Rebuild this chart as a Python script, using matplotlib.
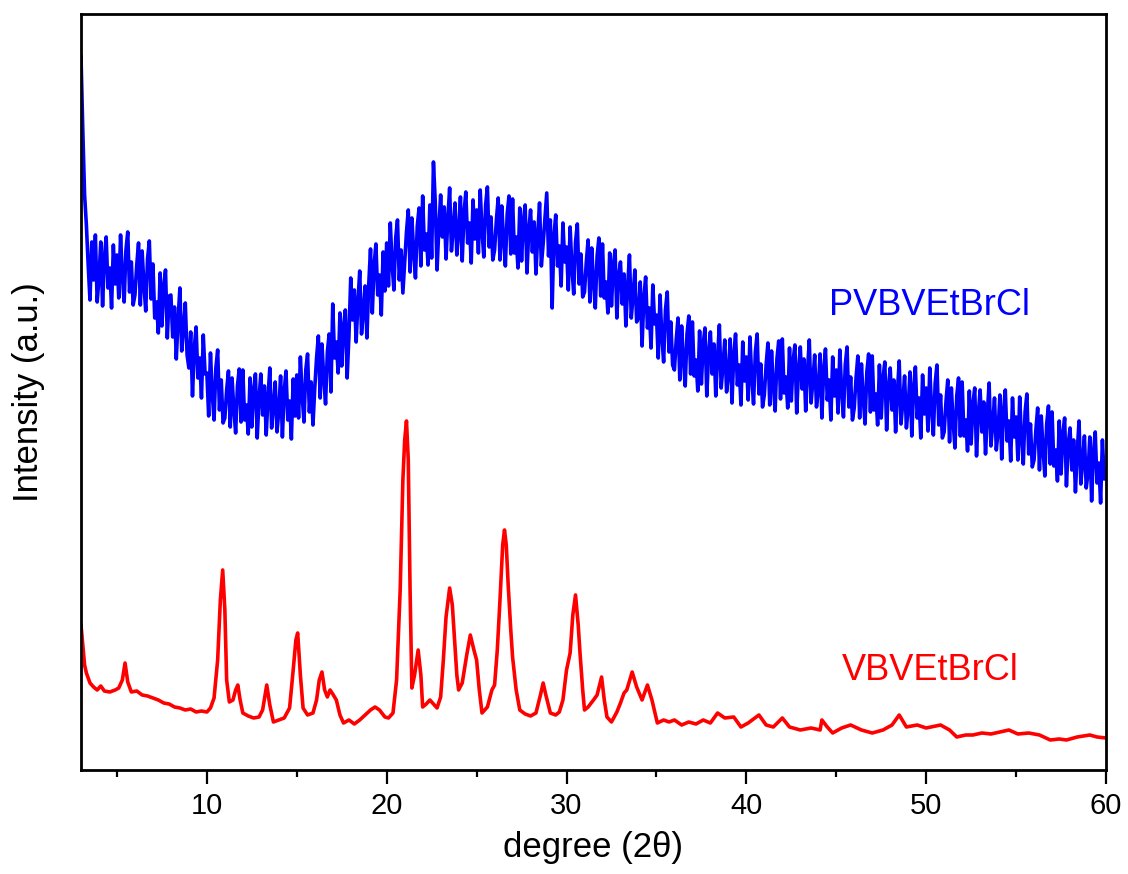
import matplotlib
matplotlib.use("Agg")
import matplotlib.pyplot as plt
import numpy as np
from matplotlib.ticker import MultipleLocator

plt.rcParams['font.family'] = ['Liberation Sans', 'DejaVu Sans']

# PVBVEtBrCl (blue), sampled every 0.1 degree from 3 to 60
pv_x = np.round(np.arange(3.0, 60.001, 0.1), 1)
pv_y = [
    714, 640, 575, 545, 505, 470, 528, 490, 535, 468,   # 3
    492, 528, 464, 512, 533, 482, 502, 462, 525, 486,   # 4
    515, 472, 535, 494, 468, 520, 538, 478, 508, 465,   # 5
    475, 505, 527, 465, 519, 485, 459, 511, 529, 471,   # 6
    506, 452, 468, 437, 497, 444, 484, 500, 432, 474,   # 7
    475, 433, 463, 411, 451, 482, 419, 441, 467, 415,   # 8
    402, 438, 374, 422, 443, 392, 412, 372, 435, 396,   # 9
    397, 354, 417, 376, 350, 402, 420, 360, 390, 347,   # 10
    352, 380, 399, 343, 392, 361, 337, 384, 401, 348,   # 11
    400, 350, 365, 336, 392, 343, 380, 396, 332, 371,   # 12
    396, 355, 384, 335, 373, 402, 342, 363, 388, 338,   # 13
    359, 394, 333, 379, 399, 350, 369, 331, 391, 354,   # 14
    395, 352, 413, 374, 348, 400, 416, 358, 388, 345,   # 15
    382, 412, 434, 372, 426, 392, 366, 418, 436, 378,   # 16
    466, 412, 428, 397, 457, 404, 444, 460, 392, 434,   # 17
    492, 450, 480, 428, 468, 499, 436, 458, 484, 432,   # 18
    485, 521, 457, 505, 526, 475, 495, 455, 518, 479,   # 19
    527, 484, 547, 506, 480, 532, 550, 490, 520, 477,   # 20
    508, 538, 560, 498, 552, 518, 492, 544, 562, 504,   # 21
    574, 520, 536, 505, 565, 512, 608, 568, 500, 542,   # 22
    575, 533, 563, 511, 551, 582, 519, 541, 567, 515,   # 23
    537, 573, 509, 557, 578, 527, 547, 507, 570, 531,   # 24
    560, 517, 580, 539, 513, 565, 583, 523, 553, 510,   # 25
    520, 550, 572, 510, 564, 530, 504, 556, 574, 516,   # 26
    571, 517, 533, 502, 562, 509, 549, 565, 497, 539,   # 27
    560, 518, 548, 496, 536, 567, 504, 526, 552, 577,   # 28
    514, 550, 462, 534, 555, 504, 524, 484, 547, 508,   # 29
    523, 480, 543, 502, 476, 528, 546, 486, 516, 473,   # 30
    478, 508, 530, 468, 522, 488, 462, 514, 532, 474,   # 31
    526, 472, 488, 457, 517, 464, 504, 520, 452, 494,   # 32
    508, 466, 496, 444, 484, 515, 452, 474, 500, 448,   # 33
    452, 488, 424, 472, 493, 442, 462, 422, 485, 446,   # 34
    455, 412, 475, 434, 408, 460, 478, 418, 448, 405,   # 35
    400, 430, 452, 390, 444, 410, 384, 436, 454, 396,   # 36
    448, 394, 410, 379, 439, 386, 426, 442, 374, 416,   # 37
    438, 396, 426, 374, 414, 445, 382, 404, 430, 378,   # 38
    395, 431, 367, 415, 436, 385, 405, 365, 428, 389,   # 39
    413, 370, 433, 392, 366, 418, 436, 376, 406, 363,   # 40
    375, 405, 427, 365, 419, 385, 359, 411, 429, 371,   # 41
    431, 377, 393, 362, 422, 369, 409, 425, 357, 399,   # 42
    423, 381, 411, 359, 399, 430, 367, 389, 415, 363,   # 43
    380, 416, 352, 400, 421, 370, 390, 350, 413, 374,   # 44
    400, 357, 420, 379, 353, 405, 423, 363, 393, 350,   # 45
    362, 392, 414, 352, 406, 372, 346, 398, 416, 358,   # 46
    414, 360, 376, 345, 405, 352, 392, 408, 340, 382,   # 47
    402, 360, 390, 338, 378, 409, 346, 368, 394, 342,   # 48
    362, 398, 334, 382, 403, 352, 372, 332, 395, 356,   # 49
    382, 339, 402, 361, 335, 387, 405, 345, 375, 332,   # 50
    338, 368, 390, 328, 382, 348, 322, 374, 392, 334,   # 51
    388, 334, 350, 319, 379, 326, 366, 382, 314, 356,   # 52
    380, 338, 368, 316, 356, 387, 324, 346, 372, 320,   # 53
    339, 375, 311, 359, 380, 329, 349, 309, 372, 333,   # 54
    353, 310, 373, 332, 306, 358, 376, 316, 346, 303,   # 55
    310, 340, 362, 300, 354, 320, 294, 346, 364, 306,   # 56
    358, 304, 320, 289, 349, 296, 336, 352, 284, 326,   # 57
    342, 300, 330, 278, 318, 349, 286, 308, 334, 282,   # 58
    297, 333, 269, 317, 338, 287, 307, 267, 330, 291,   # 59
    300,
]

# VBVEtBrCl (red)
vb_x = [
    3.0, 3.1, 3.2, 3.3, 3.5, 3.7, 3.9, 4.1, 4.3, 4.6, 4.9, 5.1, 5.3, 5.45, 5.6, 5.8,
    6.1, 6.4, 6.7, 7.0, 7.3, 7.6, 7.9, 8.2, 8.5, 8.8, 9.1, 9.4, 9.7, 10.0,
    10.2, 10.4, 10.6, 10.75, 10.88, 11.0, 11.1, 11.25, 11.45, 11.6, 11.72, 11.85,
    12.0, 12.3, 12.6, 12.9, 13.1, 13.33, 13.5, 13.7, 14.0, 14.3, 14.6, 14.8, 14.95,
    15.05, 15.2, 15.35, 15.6, 15.9, 16.1, 16.25, 16.4, 16.55, 16.7, 16.85, 17.0,
    17.2, 17.4, 17.6, 17.9, 18.2, 18.5, 18.8, 19.1, 19.35, 19.6, 19.9, 20.1, 20.35,
    20.55, 20.75, 20.9, 21.0, 21.1, 21.2, 21.3, 21.4, 21.55, 21.75, 21.9, 22.0,
    22.2, 22.4, 22.6, 22.8, 23.0, 23.15, 23.3, 23.5, 23.65, 23.75, 23.9, 24.0,
    24.2, 24.45, 24.65, 24.85, 25.0, 25.15, 25.3, 25.6, 25.85, 26.0, 26.15, 26.3,
    26.45, 26.55, 26.65, 26.75, 26.9, 27.0, 27.2, 27.4, 27.7, 28.0, 28.3, 28.55,
    28.7, 28.85, 29.1, 29.4, 29.6, 29.8, 30.0, 30.2, 30.35, 30.5, 30.65, 30.75,
    30.9, 31.0, 31.2, 31.5, 31.7, 31.95, 32.1, 32.25, 32.5, 32.8, 33.0, 33.2,
    33.35, 33.65, 33.9, 34.2, 34.5, 34.75, 35.05, 35.4, 35.7, 36.0, 36.4, 36.8,
    37.2, 37.6, 38.0, 38.4, 38.8, 39.3, 39.7, 40.1, 40.7, 41.1, 41.5, 42.0, 42.4,
    43.0, 43.6, 44.1, 44.2, 44.5, 44.8, 45.3, 45.8, 46.4, 47.0, 47.6, 48.1, 48.5,
    48.9, 49.5, 50.0, 50.8, 51.3, 51.7, 52.2, 52.6, 53.1, 53.6, 54.1, 54.6, 55.1,
    55.7, 56.3, 56.9, 57.4, 57.8, 58.4, 59.1, 59.5, 60.0,
]
vb_y = [
    145, 125, 105, 97, 87, 83, 80, 84, 79, 78, 80, 82, 90, 107, 88, 78,
    79, 75, 74, 72, 70, 67, 66, 63, 62, 60, 61, 58, 59, 58,
    62, 72, 110, 170, 200, 160, 90, 68, 70, 80, 85, 70,
    57, 54, 52, 53, 60, 85, 65, 48, 50, 52, 62, 100, 130,
    137, 95, 62, 55, 57, 70, 90, 98, 80, 73, 80, 76,
    70, 55, 47, 50, 46, 50, 55, 60, 63, 60, 53, 52, 57,
    90, 180, 290, 330, 349, 310, 180, 82, 95, 120, 95, 63,
    66, 70, 66, 62, 73, 110, 153, 182, 165, 137, 95, 80,
    87, 115, 135, 120, 110, 80, 57, 63, 80, 85, 120, 170,
    225, 240, 225, 187, 140, 113, 80, 60, 56, 54, 57, 75,
    87, 75, 57, 55, 58, 70, 100, 117, 155, 175, 145, 117,
    80, 60, 63, 70, 75, 93, 70, 53, 48, 58, 67, 77,
    80, 98, 83, 70, 85, 70, 47, 50, 48, 50, 45, 48,
    46, 50, 47, 57, 52, 53, 43, 47, 55, 45, 43, 52, 43,
    40, 42, 40, 50, 43, 37, 42, 45, 40, 37, 40, 45, 55,
    43, 45, 42, 45, 40, 33, 35, 35, 37, 36, 38, 40, 36,
    37, 35, 30, 31, 30, 33, 35, 33, 32,
]

fig = plt.figure(figsize=(11.28, 8.74), dpi=100)
ax = fig.add_axes([0.0718, 0.119, 0.9087, 0.865])

ax.plot(pv_x, pv_y, color='#0000ff', lw=2.6)
ax.plot(vb_x, vb_y, color='#ff0000', lw=2.6)

ax.set_xlim(3, 60)
ax.set_ylim(0, 756)
ax.xaxis.set_major_locator(MultipleLocator(10))
ax.xaxis.set_minor_locator(MultipleLocator(5))
ax.set_yticks([])
ax.tick_params(axis='x', which='major', direction='out', length=10, width=1.6,
               labelsize=21, pad=6)
ax.tick_params(axis='x', which='minor', direction='out', length=5, width=1.6)
for sp in ax.spines.values():
    sp.set_linewidth(2)

ax.set_xlabel('degree (2θ)', fontsize=25, labelpad=8)
ax.set_ylabel('Intensity (a.u.)', fontsize=25, labelpad=26)

ax.text(44.6, 455, 'PVBVEtBrCl', color='#0000ff', fontsize=26)
ax.text(45.3, 90, 'VBVEtBrCl', color='#ff0000', fontsize=26)

fig.savefig('out.png', dpi=100)
